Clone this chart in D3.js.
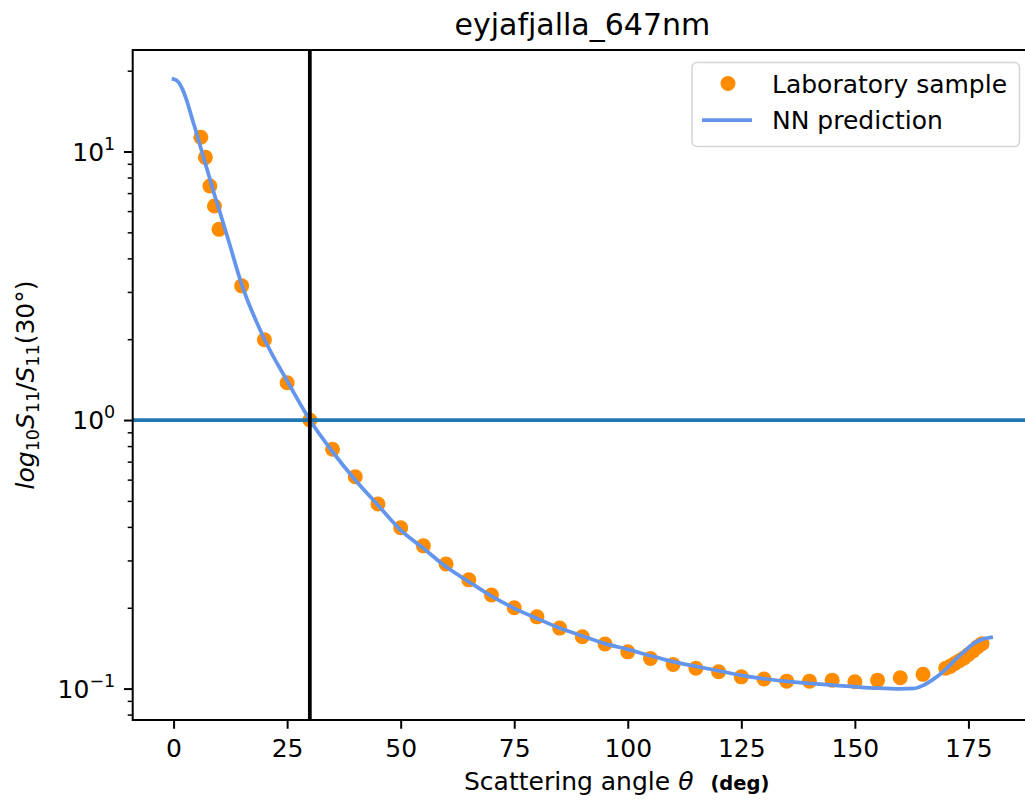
<!DOCTYPE html>
<html>
<head>
<meta charset="utf-8">
<script src="https://cdn.jsdelivr.net/npm/d3@7"></script>
<style>
  body { margin: 0; background: #ffffff; }
  svg { display: block; font-family: "DejaVu Sans", sans-serif; }
</style>
</head>
<body>
<svg id="chart" width="1025" height="803"></svg>
<script>
// Measured phase function (normalised to 30 deg)
const sampleAngles = [6, 7, 8, 9, 10, 15, 20, 25, 30, 35, 40, 45, 50, 55, 60, 65, 70, 75, 80, 85, 90,
  95, 100, 105, 110, 115, 120, 125, 130, 135, 140, 145, 150, 155, 160, 165,
  170, 171, 172, 173, 174, 175, 176, 177, 178];
const sampleValues = [11.3, 9.51, 7.44, 6.27, 5.13, 3.16, 1.99, 1.377, 1.0, 0.778, 0.615, 0.487, 0.397, 0.340, 0.291, 0.254, 0.223, 0.200, 0.185, 0.168, 0.156,
  0.1465, 0.137, 0.1295, 0.123, 0.119, 0.1155, 0.1106, 0.1085, 0.1066, 0.1066, 0.1075, 0.106, 0.1075, 0.1097, 0.113,
  0.119, 0.121, 0.124, 0.127, 0.130, 0.134, 0.138, 0.143, 0.147];

// Network prediction
const predAngles = [0, 1, 2, 3, 4, 5, 6, 7, 8, 9, 10, 12, 15, 20, 25, 30, 35, 40, 45, 50, 55, 60, 65, 70, 75, 80, 85, 90,
  95, 100, 105, 110, 115, 120, 125, 130, 135, 140, 145, 150, 155, 160, 163, 165, 167, 170, 172, 174, 176, 178, 180];
const predValues = [18.6, 18.2, 17.0, 15.3, 13.4, 11.8, 10.3, 9.0, 7.9, 6.9, 6.1, 4.72, 3.2, 2.0, 1.40, 1.0, 0.762, 0.598, 0.482, 0.389, 0.333, 0.284, 0.250, 0.221, 0.199, 0.1825, 0.168, 0.157,
  0.147, 0.140, 0.1325, 0.126, 0.121, 0.1165, 0.112, 0.1088, 0.1064, 0.1045, 0.103, 0.1016, 0.1004, 0.0998, 0.1001, 0.1027, 0.1075, 0.118, 0.1277, 0.137, 0.1465, 0.1525, 0.155];

const xTicks = [0, 25, 50, 75, 100, 125, 150, 175];
const yTicks = [0.1, 1, 10];
const yTickExponents = ["\u22121", "0", "1"];
const referenceAngle = 30;
const referenceLevel = 1;

(function draw() {
  const svg = d3.select("#chart");
  const pLeft = 132.7, pRight = 1032, pTop = 50, pBottom = 720;

  const x = d3.scaleLinear().domain([-9, 189]).range([pLeft, pRight]);
  const y = d3.scaleLog().domain([Math.pow(10, -1.117), Math.pow(10, 1.378)]).range([pBottom, pTop]);

  svg.append("defs").append("clipPath").attr("id", "plotClip")
    .append("rect").attr("x", pLeft).attr("y", pTop).attr("width", pRight - pLeft).attr("height", pBottom - pTop);

  const plot = svg.append("g").attr("clip-path", "url(#plotClip)");

  // Scatter of measurements
  plot.append("g").selectAll("circle")
    .data(sampleAngles.map((a, i) => [a, sampleValues[i]]))
    .join("circle")
    .attr("cx", d => x(d[0]))
    .attr("cy", d => y(d[1]))
    .attr("r", 7.5)
    .attr("fill", "#ff8c00");

  // Prediction curve
  const line = d3.line().x(d => x(d[0])).y(d => y(d[1])).curve(d3.curveMonotoneX);
  plot.append("path")
    .datum(predAngles.map((a, i) => [a, predValues[i]]))
    .attr("d", line)
    .attr("fill", "none")
    .attr("stroke", "#6495ed")
    .attr("stroke-width", 3.75)
    .attr("stroke-linecap", "square");

  // Reference lines
  plot.append("line")
    .attr("x1", pLeft).attr("x2", pRight)
    .attr("y1", y(referenceLevel)).attr("y2", y(referenceLevel))
    .attr("stroke", "#1f77b4").attr("stroke-width", 3.75);
  plot.append("line")
    .attr("x1", x(referenceAngle)).attr("x2", x(referenceAngle))
    .attr("y1", pTop).attr("y2", pBottom)
    .attr("stroke", "#000000").attr("stroke-width", 3.75);

  // X axis
  const xAxis = d3.axisBottom(x).tickValues(xTicks).tickSize(8.75).tickPadding(8.75);
  const gx = svg.append("g").attr("transform", `translate(0,${pBottom})`).call(xAxis);
  gx.select(".domain").remove();
  gx.selectAll(".tick line").attr("stroke", "#000").attr("stroke-width", 2);
  gx.selectAll(".tick text")
    .attr("font-family", "DejaVu Sans").attr("font-size", 25).attr("fill", "#000")
    .attr("dy", null).attr("y", 36.5);

  // Y axis major and minor ticks
  const yAxis = d3.axisLeft(y).tickValues(yTicks).tickSize(8.75).tickFormat("");
  const gy = svg.append("g").attr("transform", `translate(${pLeft},0)`).call(yAxis);
  gy.select(".domain").remove();
  gy.selectAll(".tick line").attr("stroke", "#000").attr("stroke-width", 2);

  const minorTicks = y.ticks(20).filter(v => !yTicks.some(t => Math.abs(t - v) < 1e-9));
  const yMinor = d3.axisLeft(y).tickValues(minorTicks).tickSize(5).tickFormat("");
  const gyMinor = svg.append("g").attr("transform", `translate(${pLeft},0)`).call(yMinor);
  gyMinor.select(".domain").remove();
  gyMinor.selectAll(".tick line").attr("stroke", "#000").attr("stroke-width", 1.5);

  // Y tick labels as 10^n
  yTicks.forEach((v, i) => {
    const t = svg.append("text")
      .attr("x", pLeft - 17.5)
      .attr("y", y(v) + 9)
      .attr("text-anchor", "end")
      .attr("font-size", 25)
      .attr("fill", "#000");
    t.append("tspan").text("10");
    t.append("tspan").attr("font-size", 17.5).attr("dy", -11).text(yTickExponents[i]);
  });

  // Frame
  svg.append("rect")
    .attr("x", pLeft).attr("y", pTop).attr("width", pRight - pLeft).attr("height", pBottom - pTop)
    .attr("fill", "none").attr("stroke", "#000").attr("stroke-width", 2);

  // Title
  svg.append("text")
    .attr("x", (pLeft + pRight) / 2).attr("y", 35)
    .attr("text-anchor", "middle").attr("font-size", 30).attr("fill", "#000")
    .text("eyjafjalla_647nm");

  // X label
  const xl = svg.append("text")
    .attr("x", 464).attr("y", 790)
    .attr("text-anchor", "start").attr("font-size", 25).attr("fill", "#000");
  xl.append("tspan").text("Scattering angle ");
  xl.append("tspan").attr("font-style", "italic").text("\u03b8");
  xl.append("tspan").attr("dx", 17).attr("font-weight", "bold").attr("font-size", 19.5).text("(deg)");

  // Y label
  const yl = svg.append("text")
    .attr("transform", "translate(34,385) rotate(-90)")
    .attr("text-anchor", "middle").attr("font-size", 25).attr("fill", "#000");
  yl.append("tspan").attr("font-style", "italic").text("log");
  yl.append("tspan").attr("font-size", 17.5).attr("dy", 5).text("10");
  yl.append("tspan").attr("font-style", "italic").attr("dy", -5).text("S");
  yl.append("tspan").attr("font-size", 17.5).attr("dy", 5).text("11");
  yl.append("tspan").attr("dy", -5).text("/");
  yl.append("tspan").attr("font-style", "italic").text("S");
  yl.append("tspan").attr("font-size", 17.5).attr("dy", 5).text("11");
  yl.append("tspan").attr("dy", -5).text("(30\u00b0)");

  // Legend
  const lg = svg.append("g");
  lg.append("rect")
    .attr("x", 692).attr("y", 62.5).attr("width", 327.5).attr("height", 84)
    .attr("rx", 5).attr("ry", 5)
    .attr("fill", "#ffffff").attr("fill-opacity", 0.8)
    .attr("stroke", "#d5d5d5").attr("stroke-width", 1.5);
  lg.append("circle").attr("cx", 728).attr("cy", 83.5).attr("r", 7.5).attr("fill", "#ff8c00");
  lg.append("line").attr("x1", 702).attr("x2", 752).attr("y1", 120).attr("y2", 120)
    .attr("stroke", "#6495ed").attr("stroke-width", 3.75);
  lg.append("text").attr("x", 772).attr("y", 92.5).attr("font-size", 25).attr("fill", "#000")
    .text("Laboratory sample");
  lg.append("text").attr("x", 772).attr("y", 129).attr("font-size", 25).attr("fill", "#000")
    .text("NN prediction");
})();
</script>
</body>
</html>
